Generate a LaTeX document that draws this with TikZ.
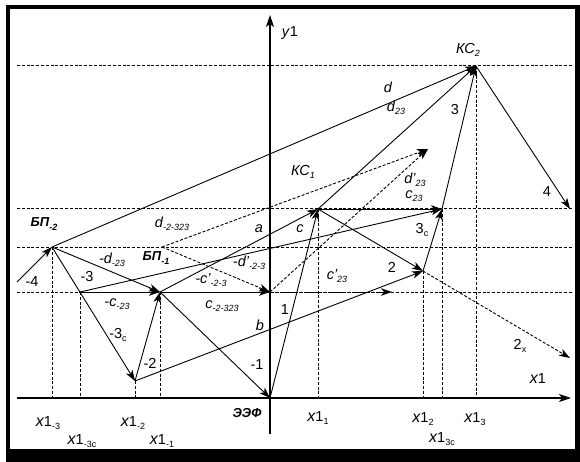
\documentclass[tikz,border=0pt]{standalone}
\usepackage{fontspec}
\setmainfont{Liberation Sans}
\usetikzlibrary{arrows.meta}
\newcommand\sbs[1]{\raisebox{-0.45ex}{\fontsize{9}{10}\selectfont #1}}
\newcommand\xx{{\fontsize{16}{17}\selectfont\itshape x}}
\begin{document}
\begin{tikzpicture}[x=1pt,y=-1pt,
  lbl/.style={inner sep=0pt, font=\fontsize{14.5}{16}\selectfont},
  il/.style={inner sep=0pt, font=\fontsize{14.5}{16}\selectfont\itshape},
  bl/.style={inner sep=0pt, font=\fontsize{13}{15}\selectfont\bfseries\itshape},
  vec/.style={-{Stealth[length=11pt,width=7.5pt,inset=3pt]}, line width=0.9pt},
  dvec/.style={vec, dash pattern=on 3pt off 1.8pt},
  gridl/.style={line width=1pt, dash pattern=on 3pt off 1.8pt},
  axis/.style={line width=1.2pt, -{Stealth[length=12pt,width=8pt,inset=3pt]}}
]
\useasboundingbox (0,0) rectangle (580,462);
\fill[white] (0,0) rectangle (580,462);
\fill[black] (6,5) rectangle (580,462);
\fill[white] (10,9) rectangle (575,449);

\coordinate (O) at (270,398);
\coordinate (KC1) at (318,209);
\coordinate (KC2) at (476,66);
\coordinate (BP1) at (160,292);
\coordinate (BP2) at (52,247);
\coordinate (P2) at (423,271);
\coordinate (P3c) at (442,209);
\coordinate (M2) at (135,381);
\coordinate (M3c) at (80,292);
\coordinate (R) at (270,292);
\coordinate (Q) at (162,247);
\coordinate (S) at (428,149);
\coordinate (Cp) at (392,292);
\coordinate (E4) at (570,209);
\coordinate (S4) at (17,282);
\coordinate (E2x) at (570,358);
\coordinate (Lft) at (17,0);
\coordinate (Rgt) at (573,0);
\coordinate (Ytop) at (270,15);
\coordinate (Ybot) at (270,434);
\coordinate (Xend) at (571,398);

% grid
\foreach \p in {KC2,KC1,BP2,BP1} \draw[gridl] (Lft |- \p) -- (Rgt |- \p);
\foreach \p in {BP2,M3c,M2,BP1,KC1,P2,P3c,KC2} \draw[gridl] (\p) -- (\p |- O);

% axes
\draw[axis] (Lft |- O) -- (Xend);
\draw[axis] (Ybot) -- (Ytop);

% vectors
\draw[vec] (O) -- (KC1);
\draw[vec] (KC1) -- (P2);
\draw[vec] (P2) -- (P3c);
\draw[vec] (P3c) -- (KC2);
\draw[vec] (KC2) -- (E4);
\draw[vec] (S4) -- (BP2);
\draw[vec] (BP2) -- (M2);
\draw[vec] (M2) -- (BP1);
\draw[vec] (BP1) -- (O);
\draw[vec] (BP2) -- (BP1);
\draw[vec] (M3c) -- (BP1);
\draw[vec] (BP1) -- (KC1);
\draw[vec] (KC1) -- (KC2);
\draw[vec] (KC1) -- (P3c);
\draw[vec] (BP2) -- (KC2);
\draw[vec] (M3c) -- (P3c);
\draw[vec] (BP1) -- (R);
\draw[vec] (M2) -- (P2);
\draw[dvec] (Q) -- (R);
\draw[dvec] (R) -- (S);
\draw[dvec] (Q) -- (S);
\draw[dvec] (R) -- (Cp);
\draw[dvec] (P2) -- (E2x);

% labels
\node[lbl] (ly) at (290,33) {\textit{y}1};
\node[lbl] (lx) at (538,379) {\xx1};
\node[il] (lkc2) at (468,50) {КС\sbs{2}};
\node[il] (lkc1) at (303,172) {КС\sbs{1}};
\node[bl] (lbp2) at (44,224) {БП\sbs{-2}};
\node[bl] (lbp1) at (156,258) {БП\sbs{-1}};
\node[bl] (leef) at (247,413) {ЭЭФ};
\node[il] (ld) at (388,87) {d};
\node[il] (ld23) at (396,108) {d\sbs{23}};
\node[lbl] (l3) at (455,110) {3};
\node[lbl] (l4) at (547,192) {4};
\node[il] (ldp23) at (415,180) {d'\sbs{23}};
\node[il] (lc23) at (414,196) {c\sbs{23}};
\node[lbl] (l3c) at (422,230) {3\sbs{c}};
\node[il] (lc) at (300,229) {c};
\node[il] (la) at (259,229) {a};
\node[il] (lcp23) at (337,276) {c'\sbs{23}};
\node[lbl] (l2) at (392,267) {2};
\node[lbl] (l1) at (285,310) {1};
\node[il] (lb) at (260,325) {b};
\node[lbl] (lm1) at (257,365) {-1};
\node[lbl] (l2x) at (520,346) {2\sbs{x}};
\node[il] (ldm) at (172,224) {d\sbs{-2-323}};
\node[il] (lmd) at (112,260) {-d\sbs{-23}};
\node[il] (lmdp) at (249,263) {-d'\sbs{-2-3}};
\node[il] (lmcp) at (211,280) {-c'\sbs{-2-3}};
\node[il] (lcm) at (222,306) {c\sbs{-2-323}};
\node[il] (lmc) at (117,304) {-c\sbs{-23}};
\node[lbl] (lm3) at (87,277) {-3};
\node[lbl] (lm3c) at (118,335) {-3\sbs{c}};
\node[lbl] (lm2) at (150,363) {-2};
\node[lbl] (lm4) at (32,282) {-4};
\node[lbl] (lx13) at (48,423) {\xx1\sbs{-3}};
\node[lbl] (lx13c) at (82,441) {\xx1\sbs{-3c}};
\node[lbl] (lx12) at (133,423) {\xx1\sbs{-2}};
\node[lbl] (lx11) at (162,441) {\xx1\sbs{-1}};
\node[lbl] (lxp1) at (318,418) {\xx1\sbs{1}};
\node[lbl] (lxp2) at (423,419) {\xx1\sbs{2}};
\node[lbl] (lxp3) at (475,419) {\xx1\sbs{3}};
\node[lbl] (lxp3c) at (442,439) {\xx1\sbs{3c}};
\end{tikzpicture}
\end{document}
